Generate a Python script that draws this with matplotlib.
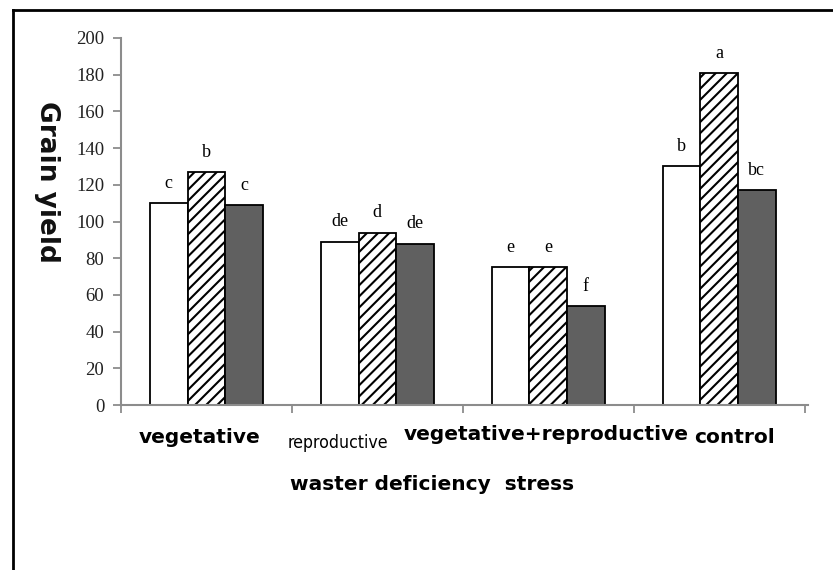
import matplotlib
matplotlib.use("Agg")
import matplotlib.pyplot as plt
from matplotlib.lines import Line2D
import matplotlib.transforms as mtransforms

# ---- data ----
categories = ["vegetative", "reproductive", "vegetative+reproductive", "control"]
series_white = [110, 89, 75, 130]
series_hatched = [127, 94, 75, 181]
series_dark = [109, 88, 54, 117]
letters_white = ["c", "de", "e", "b"]
letters_hatched = ["b", "d", "e", "a"]
letters_dark = ["c", "de", "f", "bc"]
yticks = list(range(0, 201, 20))
ylabel = "Grain yield"
xlabel = "waster deficiency  stress"

plt.rcParams['hatch.linewidth'] = 1.5

fig = plt.figure(figsize=(8.33, 5.70), dpi=100)
ax = fig.add_axes([121/833, 1-405/570, 687/833, 367/570])

w = 0.22
x = list(range(len(categories)))
series = [
    (series_white, letters_white, dict(color="white", hatch=None)),
    (series_hatched, letters_hatched, dict(color="white", hatch="///")),
    (series_dark, letters_dark, dict(color="#606060", hatch=None)),
]
for k, (vals, lets, st) in enumerate(series):
    xs = [xi + (k - 1) * w for xi in x]
    ax.bar(xs, vals, width=w, color=st["color"], edgecolor="black",
           linewidth=1.3, hatch=st["hatch"], zorder=2)
    for xi, v, t in zip(xs, vals, lets):
        ax.annotate(t, (xi, v), xytext=(0, 11), textcoords="offset points",
                    ha="center", va="baseline", fontsize=13,
                    family="Liberation Serif")

ax.set_ylim(0, 200)
ax.set_xlim(-0.5, 3.52)
ax.set_yticks(yticks)
ax.set_yticklabels([str(t) for t in yticks], family="Liberation Serif", fontsize=13.5)
ax.set_xticks([i - 0.5 for i in range(len(categories) + 1)])
ax.set_xticklabels([])
for s in ["top", "right"]:
    ax.spines[s].set_visible(False)
for s in ["left", "bottom"]:
    ax.spines[s].set_color("#8c8c8c")
    ax.spines[s].set_linewidth(1.5)
ax.tick_params(axis="both", direction="out", color="#8c8c8c", width=1.3, length=6)
ax.tick_params(axis="y", pad=6, colors="#8c8c8c", labelcolor="#222222")

# category labels
trans = mtransforms.blended_transform_factory(ax.transData, fig.transFigure)
lab_dx = [-0.04, -0.23, -0.01, 0.09]
lab_y = [1-443/570, 1-448/570, 1-440/570, 1-443/570]
lab_style = [
    dict(family="DejaVu Sans", weight="bold", fontsize=14.5),
    dict(family="DejaVu Sans", weight="normal", fontsize=12.7, stretch="condensed"),
    dict(family="DejaVu Sans", weight="bold", fontsize=14.5),
    dict(family="DejaVu Sans", weight="bold", fontsize=14.5),
]
for i, c in enumerate(categories):
    ax.text(i + lab_dx[i], lab_y[i], c, transform=trans, ha="center",
            va="baseline", **lab_style[i])

fig.text(432/833, 1-490/570, xlabel, ha="center", va="baseline",
         family="DejaVu Sans", weight="bold", fontsize=14.5)
fig.text(47/833, 1-182/570, ylabel, rotation=270, ha="center", va="center",
         family="DejaVu Sans", weight="bold", fontsize=19, color="#111111")

# frame lines
fig.add_artist(Line2D([13/833, 13/833], [0, 1-10/570], transform=fig.transFigure,
                      color="black", linewidth=2))
fig.add_artist(Line2D([13/833, 1], [1-10/570, 1-10/570], transform=fig.transFigure,
                      color="black", linewidth=2))

fig.savefig("out.png", dpi=100)
